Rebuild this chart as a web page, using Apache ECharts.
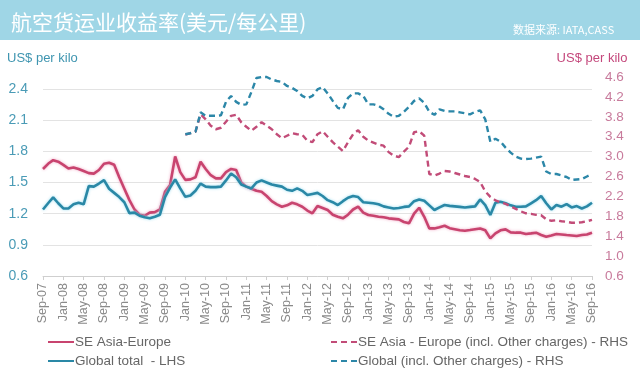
<!DOCTYPE html>
<html>
<head>
<meta charset="utf-8">
<script src="https://cdn.jsdelivr.net/npm/echarts@6/dist/echarts.min.js"></script>
<style>
html,body{margin:0;padding:0;background:#fff;}
#c{width:640px;height:374px;}
</style>
</head>
<body>
<div id="c"></div>
<script>
// Title texts
const titleText = '航空货运业收益率(美元/每公里)';
const sourceText = '数据来源: IATA,CASS';
const axisName = 'US$ per kilo';

// Categories: monthly, Sep-07 .. Sep-16
const monthNames = ['Jan','Feb','Mar','Apr','May','Jun','Jul','Aug','Sep','Oct','Nov','Dec'];
const categories = [];
for (let y = 2007, m = 8; y < 2016 || (y === 2016 && m <= 8); ) {
  categories.push(monthNames[m] + '-' + String(y).slice(2));
  m++; if (m > 11) { m = 0; y++; }
}

// Left-axis ticks / right-axis ticks
const leftTicks = [0.6, 0.9, 1.2, 1.5, 1.8, 2.1, 2.4];
const rightTicks = [0.6, 1.0, 1.4, 1.8, 2.2, 2.6, 3.0, 3.4, 3.8, 4.2, 4.6];

// Series names
const nameSeaEu = 'SE Asia-Europe';
const nameGlobal = 'Global total  - LHS';
const nameSeaEuAll = 'SE Asia - Europe (incl. Other charges) - RHS';
const nameGlobalAll = 'Global (incl. Other charges) - RHS';

// SE Asia-Europe (LHS), Sep-07 .. Sep-16
const seaEu = [
1.63,1.68,1.715,1.70,1.67,1.635,1.645,1.63,1.61,1.59,
1.585,1.62,1.68,1.69,1.67,1.55,1.44,1.33,1.24,1.19,
1.18,1.21,1.215,1.24,1.41,1.475,1.75,1.60,1.525,1.53,
1.55,1.70,1.63,1.57,1.54,1.54,1.60,1.63,1.62,1.50,
1.46,1.44,1.42,1.41,1.37,1.32,1.29,1.267,1.28,1.305,
1.29,1.267,1.23,1.203,1.273,1.255,1.235,1.19,1.17,1.155,
1.19,1.24,1.267,1.21,1.187,1.18,1.17,1.165,1.155,1.15,
1.145,1.12,1.107,1.20,1.257,1.17,1.058,1.058,1.07,1.084,
1.06,1.05,1.04,1.036,1.042,1.05,1.058,1.04,0.962,1.01,
1.04,1.049,1.02,1.017,1.017,1.004,1.01,1.017,0.995,0.978,
0.99,1.004,1.0,0.994,0.99,0.985,0.994,1.0,1.017
];

// Global total (LHS)
const globalTotal = [
1.24,1.30,1.357,1.30,1.25,1.25,1.29,1.305,1.29,1.465,
1.46,1.49,1.523,1.44,1.40,1.36,1.31,1.205,1.21,1.18,
1.165,1.155,1.17,1.19,1.36,1.45,1.53,1.443,1.362,1.375,
1.42,1.49,1.46,1.455,1.455,1.46,1.52,1.587,1.55,1.48,
1.46,1.443,1.50,1.52,1.50,1.48,1.47,1.46,1.43,1.42,
1.443,1.42,1.38,1.39,1.40,1.37,1.33,1.31,1.283,1.32,
1.353,1.37,1.36,1.31,1.305,1.30,1.29,1.27,1.26,1.25,
1.255,1.265,1.27,1.32,1.337,1.325,1.28,1.235,1.26,1.283,
1.275,1.27,1.265,1.26,1.265,1.27,1.337,1.283,1.187,1.305,
1.315,1.30,1.28,1.267,1.267,1.27,1.30,1.33,1.37,1.30,
1.241,1.283,1.267,1.292,1.26,1.273,1.25,1.27,1.305
];

// Incl. other charges (RHS), Jan-10 .. Sep-16
const rhsStart = 'Jan-10';
const seaEuAll = [
3.44,3.47,3.50,3.85,3.75,3.62,3.55,3.58,3.70,3.82,
3.84,3.69,3.60,3.52,3.60,3.69,3.62,3.55,3.45,3.37,
3.42,3.47,3.45,3.44,3.32,3.29,3.45,3.51,3.40,3.29,
3.20,3.11,3.29,3.45,3.53,3.40,3.32,3.28,3.24,3.22,
3.09,3.02,2.99,3.10,3.20,3.49,3.51,3.42,2.65,2.62,
2.66,2.71,2.70,2.67,2.64,2.61,2.59,2.55,2.49,2.30,
2.19,2.12,2.08,2.05,2.00,1.95,1.90,1.86,1.85,1.83,
1.82,1.74,1.71,1.72,1.70,1.69,1.67,1.67,1.68,1.70,
1.73
];
const globalAll = [
3.45,3.47,3.50,3.89,3.82,3.82,3.82,3.83,4.10,4.22,
4.10,4.04,4.05,4.30,4.58,4.60,4.60,4.55,4.52,4.50,
4.42,4.38,4.32,4.22,4.17,4.22,4.35,4.40,4.27,4.12,
3.98,3.95,4.18,4.27,4.27,4.22,4.05,4.05,4.02,3.95,
3.86,3.80,3.82,3.90,4.00,4.12,4.17,4.08,3.90,3.84,
3.95,3.92,3.91,3.91,3.89,3.87,3.85,3.90,3.93,3.75,
3.30,3.36,3.30,3.18,3.08,3.00,2.96,2.95,2.96,2.98,
3.00,2.70,2.65,2.65,2.62,2.59,2.53,2.54,2.55,2.60,
2.65
];

function padTo(arr, startCat) {
  const k = categories.indexOf(startCat);
  return new Array(k).fill(null).concat(arr);
}

const colRed = '#c8446f';
const colBlue = '#2a88a6';
const colRedD = '#c24c78';
const colBlueD = '#2c87a8';

const chart = echarts.init(document.getElementById('c'), null, {renderer: 'canvas'});

const gridTop = 77, gridBottom = 98;
const leftMin = 0.6, leftInterval = 0.3;
const leftMax = 0.6 + (374 - gridBottom - gridTop) / 103.9 * 1; // aligns 2.4 gridline with reference

const legendCommon = {
  orient: 'vertical', top: 330, height: 60, itemWidth: 26, itemHeight: 12, itemGap: 5,
  itemStyle: {opacity: 0},
  textStyle: {color: '#666', fontSize: 13.5, fontFamily: 'Liberation Sans', padding: [0, 0, 0, -4]}
};

chart.setOption({
  animation: false,
  backgroundColor: '#fff',
  graphic: [
    {type: 'rect', left: 0, top: 0, shape: {width: 640, height: 40}, style: {fill: '#9fd6e6'}, z: -1}
  ],
  title: [
    {text: titleText, left: 6, top: 7,
     textStyle: {color: '#ffffff', fontSize: 21, fontWeight: 'normal', fontFamily: 'Noto Sans CJK SC'}},
    {text: sourceText, left: 508, top: 19,
     textStyle: {color: '#ffffff', fontSize: 11, fontWeight: 'normal', fontFamily: 'Noto Sans CJK SC'}}
  ],
  legend: [
    Object.assign({}, legendCommon, {left: 42, data: [nameSeaEu, nameGlobal]}),
    Object.assign({}, legendCommon, {left: 325, data: [nameSeaEuAll, nameGlobalAll]})
  ],
  grid: {left: 43, right: 48, top: gridTop, bottom: gridBottom, containLabel: false},
  xAxis: {
    type: 'category', data: categories, boundaryGap: false,
    axisLine: {show: true, lineStyle: {color: '#cfcfcf', width: 1}},
    axisTick: {show: true, interval: 3, length: 4, lineStyle: {color: '#cfcfcf'}},
    axisLabel: {interval: 3, rotate: 90, margin: 7, color: '#8a8a8a', fontSize: 12.5,
      fontFamily: 'Liberation Sans'},
    splitLine: {show: false}
  },
  yAxis: [
    {type: 'value', min: leftMin, max: leftMax, interval: leftInterval, position: 'left',
     name: axisName, nameLocation: 'end', nameGap: 12,
     nameTextStyle: {color: '#3f95b0', fontSize: 13, fontFamily: 'Liberation Sans', align: 'left', padding: [0,0,0,-36]},
     axisLine: {show: false}, axisTick: {show: false},
     axisLabel: {color: '#4a9bb6', fontSize: 14, margin: 15, fontFamily: 'Liberation Sans',
       showMaxLabel: false,
       formatter: v => leftTicks.some(t => Math.abs(t - v) < 1e-6) ? v.toFixed(1) : ''},
     splitLine: {show: true, showMaxLine: false, lineStyle: {color: '#e3e3e3', width: 1}}
    },
    {type: 'value', min: 0.6, max: 4.6, interval: 0.4, position: 'right',
     name: axisName, nameLocation: 'end', nameGap: 12,
     nameTextStyle: {color: '#c4487c', fontSize: 13, fontFamily: 'Liberation Sans'},
     axisLine: {show: false}, axisTick: {show: false},
     axisLabel: {color: '#c87b9c', fontSize: 13.5, margin: 13, fontFamily: 'Liberation Sans',
       formatter: v => rightTicks.some(t => Math.abs(t - v) < 1e-6) ? v.toFixed(1) : ''},
     splitLine: {show: false}
    }
  ],
  series: [
    {name: nameSeaEu, type: 'line', yAxisIndex: 0, data: seaEu, symbol: 'none', clip: false,
     lineStyle: {color: colRed, width: 2.6, shadowColor: 'rgba(240,160,190,0.9)', shadowBlur: 3},
     itemStyle: {color: colRed}},
    {name: nameGlobal, type: 'line', yAxisIndex: 0, data: globalTotal, symbol: 'none', clip: false,
     lineStyle: {color: colBlue, width: 2.6, shadowColor: 'rgba(150,220,240,0.9)', shadowBlur: 3},
     itemStyle: {color: colBlue}},
    {name: nameSeaEuAll, type: 'line', yAxisIndex: 1, data: padTo(seaEuAll, rhsStart), symbol: 'none', clip: false,
     lineStyle: {color: colRedD, width: 2.4, type: [6, 4]},
     itemStyle: {color: colRedD}},
    {name: nameGlobalAll, type: 'line', yAxisIndex: 1, data: padTo(globalAll, rhsStart), symbol: 'none', clip: false,
     lineStyle: {color: colBlueD, width: 2.4, type: [6, 4]},
     itemStyle: {color: colBlueD}}
  ]
});
</script>
</body>
</html>
